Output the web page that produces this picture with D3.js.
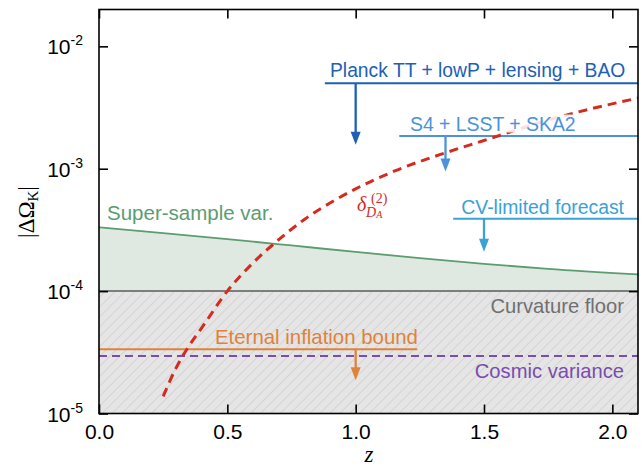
<!DOCTYPE html>
<html>
<head>
<meta charset="utf-8">
<script src="https://cdn.jsdelivr.net/npm/d3@7"></script>
<style>
  body { margin: 0; background: #fff; }
  text { font-family: "Liberation Sans", Arial, sans-serif; }
  .serif { font-family: "Liberation Serif", "Times New Roman", serif; }
</style>
</head>
<body>
<div id="chart"></div>
<script>
// axes
const zTicks = [0, 0.5, 1.0, 1.5, 2.0];
const yTicks = [1e-5, 1e-4, 1e-3, 1e-2];
const yExp = [-5, -4, -3, -2];

// super-sample variance band (upper edge)
const ssvZ   = [0, 0.25, 0.5, 0.75, 1.0, 1.25, 1.5, 1.75, 2.1];
const ssvVal = [3.32e-4, 2.98e-4, 2.66e-4, 2.36e-4, 2.09e-4, 1.86e-4, 1.67e-4, 1.52e-4, 1.37e-4];

// delta_{D_A}^{(2)} curve
const deltaZ   = [0.25, 0.30, 0.35, 0.40, 0.50, 0.60, 0.70, 0.80, 0.90, 1.00, 1.15, 1.35, 1.50, 1.75, 2.10];
const deltaVal = [1.38e-5, 2.35e-5, 3.55e-5, 5.0e-5, 1.0e-4, 1.7e-4, 2.63e-4, 3.85e-4, 5.25e-4, 6.85e-4, 9.55e-4, 1.35e-3, 1.7e-3, 2.5e-3, 3.78e-3];

// horizontal levels
const curvatureFloor = 1e-4;
const cosmicVariance = 2.95e-5;

// upper bounds with arrows
const boundLabels = ["Planck TT + lowP + lensing + BAO", "S4 + LSST + SKA2", "CV-limited forecast", "Eternal inflation bound"];
const boundValues = [5.0e-3, 1.85e-3, 3.9e-4, 3.35e-5];
const boundFrom   = [0.88, 1.17, 1.38, 0];
const boundTo     = [2.1, 2.1, 2.1, 1.24];
const arrowZ      = [1.0, 1.35, 1.5, 1.0];
const arrowTip    = [1.57e-3, 9.5e-4, 2.1e-4, 1.87e-5];
const boundColors = ["#1d60b6", "#4b92da", "#3aa2d8", "#e0823a"];

const W = 644, H = 466;
const margin = { top: 9.5, right: 6, bottom: 52.5, left: 99 };

const svg = d3.select("#chart").append("svg")
    .attr("width", W)
    .attr("height", H);

const x = d3.scaleLinear().domain([0, 2.1]).range([margin.left, W - margin.right]);
const y = d3.scaleLog().domain([1e-5, 2e-2]).range([H - margin.bottom, margin.top]);

const x0 = x.range()[0], x1 = x.range()[1];
const yb = y.range()[0], yt = y.range()[1];

svg.append("defs").append("clipPath").attr("id", "plot")
  .append("rect").attr("x", x0).attr("y", yt).attr("width", x1 - x0).attr("height", yb - yt);

const pat = svg.select("defs").append("pattern")
    .attr("id", "hatch")
    .attr("patternUnits", "userSpaceOnUse")
    .attr("width", 7).attr("height", 7)
    .attr("patternTransform", "rotate(45)");
pat.append("rect").attr("width", 7).attr("height", 7).attr("fill", "#e5e5e5");
pat.append("line").attr("x1", 0).attr("y1", 0).attr("x2", 0).attr("y2", 7)
    .attr("stroke", "#c4c4c4").attr("stroke-width", 1);

const g = svg.append("g").attr("clip-path", "url(#plot)");

// curvature floor region
g.append("rect")
    .attr("x", x0).attr("y", y(curvatureFloor))
    .attr("width", x1 - x0).attr("height", yb - y(curvatureFloor))
    .attr("fill", "url(#hatch)");

// super-sample band
const ssv = ssvZ.map((z, i) => ({ z: z, v: ssvVal[i] }));
g.append("path")
    .datum(ssv)
    .attr("fill", "#dfe9e1")
    .attr("d", d3.area()
        .x(d => x(d.z))
        .y0(y(curvatureFloor))
        .y1(d => y(d.v))
        .curve(d3.curveMonotoneX));
g.append("path")
    .datum(ssv)
    .attr("fill", "none")
    .attr("stroke", "#5b9d70")
    .attr("stroke-width", 1.8)
    .attr("d", d3.line().x(d => x(d.z)).y(d => y(d.v)).curve(d3.curveMonotoneX));

// floor line
g.append("line")
    .attr("x1", x0).attr("x2", x1)
    .attr("y1", y(curvatureFloor)).attr("y2", y(curvatureFloor))
    .attr("stroke", "#7d7d7d").attr("stroke-width", 2);

// cosmic variance
g.append("line")
    .attr("x1", x0).attr("x2", x1)
    .attr("y1", y(cosmicVariance)).attr("y2", y(cosmicVariance))
    .attr("stroke", "#7a4cb0").attr("stroke-width", 2)
    .attr("stroke-dasharray", "8,5");

// bound lines
boundLabels.forEach(function(lbl, i) {
    g.append("line")
        .attr("x1", x(boundFrom[i])).attr("x2", x(boundTo[i]))
        .attr("y1", y(boundValues[i])).attr("y2", y(boundValues[i]))
        .attr("stroke", boundColors[i]).attr("stroke-width", 2);
});

// delta curve
const delta = deltaZ.map((z, i) => ({ z: z, v: deltaVal[i] }));
g.append("path")
    .datum(delta)
    .attr("fill", "none")
    .attr("stroke", "#d52b1e")
    .attr("stroke-width", 3)
    .attr("stroke-dasharray", "9,6")
    .attr("d", d3.line().x(d => x(d.z)).y(d => y(d.v)).curve(d3.curveMonotoneX));

// arrows
boundLabels.forEach(function(lbl, i) {
    const ax = x(arrowZ[i]), ay0 = y(boundValues[i]), ay1 = y(arrowTip[i]);
    const head = 13, hw = 5;
    svg.append("line")
        .attr("x1", ax).attr("x2", ax)
        .attr("y1", ay0).attr("y2", ay1 - head + 1)
        .attr("stroke", boundColors[i]).attr("stroke-width", 2.3);
    svg.append("path")
        .attr("d", `M${ax - hw},${ay1 - head}L${ax + hw},${ay1 - head}L${ax},${ay1}Z`)
        .attr("fill", boundColors[i]);
});

// labels
function label(txt, tx, ty, anchor, color, size) {
    return svg.append("text")
        .attr("x", tx).attr("y", ty)
        .attr("text-anchor", anchor)
        .attr("font-size", size)
        .attr("fill", color)
        .text(txt);
}

label(boundLabels[0], 330, 76.5, "start", boundColors[0], 19.3);
const s4 = label(boundLabels[1], 410, 130.5, "start", boundColors[1], 19.4);
const bb = s4.node().getBBox();
svg.insert("rect", function() { return s4.node(); })
    .attr("x", bb.x - 2).attr("y", bb.y + 2)
    .attr("width", bb.width + 4).attr("height", bb.height - 4)
    .attr("fill", "#fff").attr("fill-opacity", 0.85);
label(boundLabels[2], 624, 213.5, "end", boundColors[2], 19.4);
label(boundLabels[3], 215, 344, "start", boundColors[3], 20.4);
label("Super-sample var.", 107, 220, "start", "#5b9d70", 20.5);
label("Curvature floor", 624, 313, "end", "#707070", 20.2);
label("Cosmic variance", 624, 378, "end", "#7a4cb0", 20.2);

// delta label, one text element
const dl = svg.append("text")
    .attr("class", "serif")
    .attr("x", 357).attr("y", 211)
    .attr("fill", "#d52b1e")
    .attr("font-size", 20);
dl.append("tspan").attr("font-style", "italic").text("δ");
dl.append("tspan").attr("x", 371).attr("dy", -8).attr("font-size", 14).text("(2)");
dl.append("tspan").attr("x", 366).attr("dy", 13.5).attr("font-size", 14)
    .attr("font-style", "italic").text("D");
dl.append("tspan").attr("dy", 1.5).attr("font-size", 10)
    .attr("font-style", "italic").text("A");

// frame
svg.append("rect")
    .attr("x", x0).attr("y", yt)
    .attr("width", x1 - x0).attr("height", yb - yt)
    .attr("fill", "none").attr("stroke", "#000").attr("stroke-width", 1.6);

// axes
const ax = svg.append("g")
    .attr("transform", `translate(0,${yb})`)
    .call(d3.axisBottom(x).tickValues(zTicks).tickSize(-9).tickSizeOuter(0).tickPadding(11)
        .tickFormat(d3.format(".1f")));
ax.selectAll("text").attr("font-size", 21).attr("fill", "#000")
    .attr("font-family", "Liberation Sans, Arial, sans-serif");

svg.append("g")
    .attr("transform", `translate(0,${yt})`)
    .call(d3.axisTop(x).tickValues(zTicks).tickSize(-9).tickSizeOuter(0).tickFormat(""));

const ay = svg.append("g")
    .attr("transform", `translate(${x0},0)`)
    .call(d3.axisLeft(y).tickValues(yTicks).tickSize(-9).tickSizeOuter(0).tickPadding(16)
        .tickFormat(""));
ay.selectAll(".tick text")
    .attr("font-size", 21).attr("fill", "#000")
    .attr("font-family", "Liberation Sans, Arial, sans-serif")
    .attr("dy", "0.36em")
    .each(function(d, i) {
        const t = d3.select(this);
        t.append("tspan").text("10");
        t.append("tspan").attr("font-size", 14).attr("dy", -9).text(String(yExp[i]));
    });

svg.append("g")
    .attr("transform", `translate(${x1},0)`)
    .call(d3.axisRight(y).tickValues(yTicks).tickSize(-9).tickSizeOuter(0).tickFormat(""));

svg.selectAll(".domain").remove();
svg.selectAll(".tick line").attr("stroke", "#000").attr("stroke-width", 1.6);

// axis titles
svg.append("text")
    .attr("class", "serif")
    .attr("x", 369).attr("y", 462)
    .attr("text-anchor", "middle")
    .attr("font-size", 23)
    .attr("font-style", "italic")
    .text("z");

const yl = svg.append("text")
    .attr("class", "serif")
    .attr("transform", "translate(34,212) rotate(-90)")
    .attr("text-anchor", "middle")
    .attr("font-size", 23);
yl.append("tspan").text("|ΔΩ");
yl.append("tspan").attr("font-size", 15).attr("dy", 4).text("K");
yl.append("tspan").attr("dy", -4).text("|");
</script>
</body>
</html>
